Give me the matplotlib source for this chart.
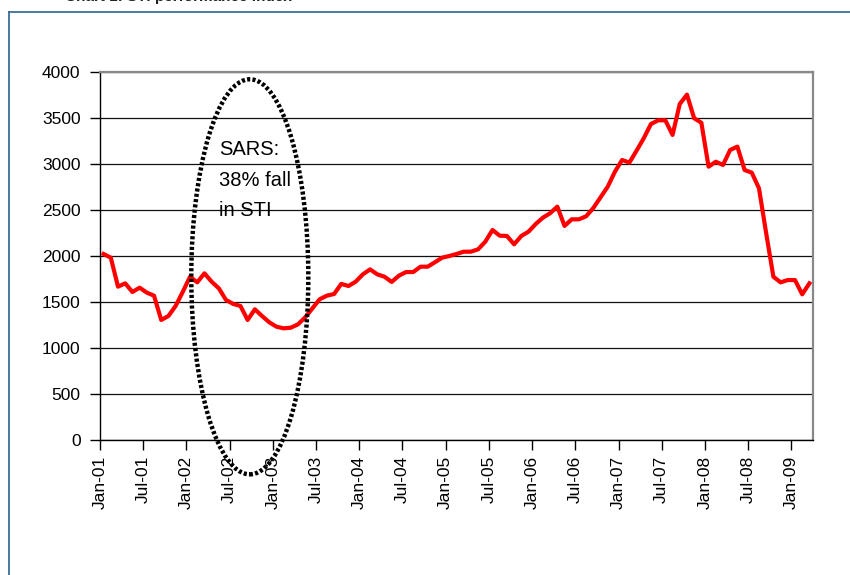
import numpy as np
import matplotlib.pyplot as plt
from matplotlib.patches import Ellipse
from matplotlib.lines import Line2D

plt.rcParams['font.family'] = ['Liberation Sans', 'DejaVu Sans']

# monthly STI close, Jan-01 .. Mar-09
sti = [2025, 1985, 1670, 1706, 1612, 1659, 1605, 1572, 1308, 1351, 1460, 1615,
       1778, 1717, 1815, 1724, 1652, 1525, 1482, 1460, 1308, 1424, 1351, 1283,
       1235, 1217, 1224, 1261, 1337, 1435, 1533, 1572, 1590, 1700, 1677, 1724,
       1804, 1858, 1804, 1778, 1721, 1789, 1829, 1829, 1887, 1887, 1935, 1985,
       2003, 2025, 2050, 2050, 2076, 2159, 2286, 2224, 2221, 2130, 2221, 2268,
       2351, 2420, 2468, 2540, 2330, 2402, 2402, 2435, 2525, 2641, 2757, 2920,
       3047, 3018, 3148, 3283, 3438, 3478, 3478, 3319, 3656, 3757, 3500, 3452,
       2974, 3028, 2993, 3156, 3192, 2938, 2909, 2739, 2250, 1778, 1717, 1742,
       1742, 1587, 1706]
tick_labels = ['Jan-01', 'Jul-01', 'Jan-02', 'Jul-02', 'Jan-03', 'Jul-03',
               'Jan-04', 'Jul-04', 'Jan-05', 'Jul-05', 'Jan-06', 'Jul-06',
               'Jan-07', 'Jul-07', 'Jan-08', 'Jul-08', 'Jan-09']
y_ticks = [0, 500, 1000, 1500, 2000, 2500, 3000, 3500, 4000]
note = 'SARS:\n38% fall\nin STI'

x = np.arange(len(sti))

fig = plt.figure(figsize=(8.5, 5.75), dpi=100)
ax = fig.add_axes([100 / 850, 1 - 440.3 / 575, 713 / 850, 368 / 575])

ax.plot(x, sti, color='#ff0000', lw=3.0, zorder=3)

# SARS period ring
ring = Ellipse((20.3, 1777), 16.25, 4294, fill=False, ec='black', lw=3.2,
               ls=(0, (0.7, 0.5)), clip_on=False, zorder=4)
ax.add_patch(ring)
ax.text(16.0, 3260, note, fontsize=14.5, va='top', ha='left', linespacing=1.75)

ax.set_xlim(-0.5, len(sti) - 0.5)
ax.set_ylim(0, 4000)
ax.set_yticks(y_ticks)
ax.set_xticks(np.arange(0, len(sti), 6) - 0.5)
ax.set_xticklabels(tick_labels, rotation=90, fontsize=12.5)
ax.tick_params(axis='x', length=7, width=1, pad=4)
ax.tick_params(axis='y', length=7, width=1, pad=7, labelsize=12.5)

ax.yaxis.grid(True, color='#111111', lw=0.9)
ax.set_axisbelow(True)
for s in ['top', 'right']:
    ax.spines[s].set_color('#888888')
    ax.spines[s].set_linewidth(1.6)
for s in ['left', 'bottom']:
    ax.spines[s].set_color('black')
    ax.spines[s].set_linewidth(1)

# outer frame and cut-off heading
fig.add_artist(Line2D([9.3 / 850, 1.0], [1 - 12.3 / 575] * 2, color='#3b6f9a',
                      lw=1.3, transform=fig.transFigure))
fig.add_artist(Line2D([9.3 / 850] * 2, [1 - 12.3 / 575, 0], color='#3b6f9a',
                      lw=1.3, transform=fig.transFigure))
fig.text(65 / 850, 1 - 1 / 575, 'Chart 1: STI performance index', fontsize=11,
         fontweight='bold', va='baseline', ha='left', color='#222222')

fig.savefig('out.png', dpi=100)
